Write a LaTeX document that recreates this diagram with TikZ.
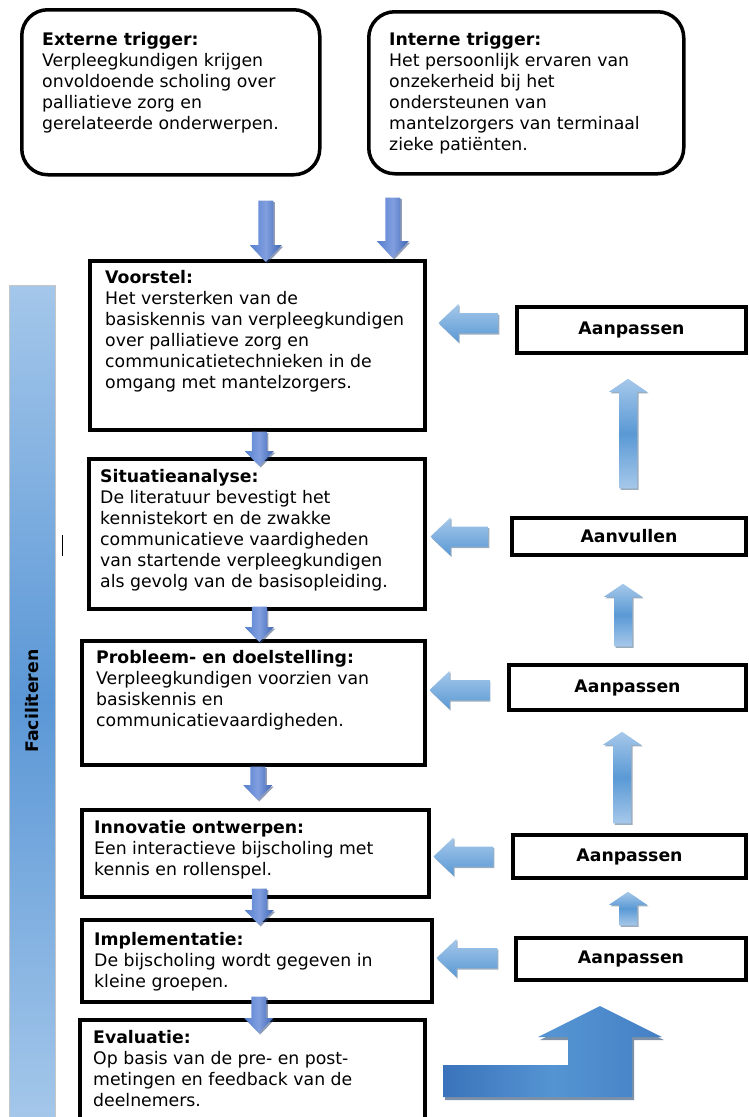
\documentclass[tikz,border=0pt]{standalone}
\usepackage{fontspec}
\setmainfont{DejaVu Sans}
\usetikzlibrary{calc,shadows}
\definecolor{dnL}{HTML}{557FD0}
\definecolor{dnM}{HTML}{819FDF}
\definecolor{dnR}{HTML}{3E65B4}
\definecolor{ltA}{HTML}{A6C8EA}
\definecolor{ltB}{HTML}{5A99D5}
\definecolor{bnL}{HTML}{3A73BA}
\definecolor{bnM}{HTML}{5594D3}
\definecolor{bnR}{HTML}{4480C4}
\definecolor{facA}{HTML}{A4C7EA}
\definecolor{facB}{HTML}{5B97D6}

\newcommand\myVarrow[6]{%
  \path[#1] let \p1=#2, \p2=#3, \n1={sign(\y2-\y1)} in
  ({\x1-#4pt},\y1) -- ({\x1-#4pt},{\y2-(\n1)*#6pt}) -- ({\x1-#5pt},{\y2-(\n1)*#6pt}) -- (\x1,\y2)
  -- ({\x1+#5pt},{\y2-(\n1)*#6pt}) -- ({\x1+#4pt},{\y2-(\n1)*#6pt}) -- ({\x1+#4pt},\y1) -- cycle;}
\newcommand\myHarrow[6]{%
  \path[#1] let \p1=#2, \p2=#3, \n1={sign(\x2-\x1)} in
  (\x1,{\y1-#4pt}) -- ({\x2-(\n1)*#6pt},{\y1-#4pt}) -- ({\x2-(\n1)*#6pt},{\y1-#5pt}) -- (\x2,\y1)
  -- ({\x2-(\n1)*#6pt},{\y1+#5pt}) -- ({\x2-(\n1)*#6pt},{\y1+#4pt}) -- (\x1,{\y1+#4pt}) -- cycle;}

\tikzset{
  rbox/.style={draw=black, line width=3.5pt, rounded corners=26pt, fill=white, inner sep=0pt, anchor=north west},
  sbox/.style={draw=black, line width=3.5pt, fill=white, inner sep=0pt, anchor=north west},
  abox/.style={draw=black, line width=3.5pt, fill=white, inner sep=0pt,
    font=\fontsize{17.3}{21}\selectfont\bfseries},
  txt/.style={font=\fontsize{17.3}{21}\selectfont, align=left, inner sep=0pt, anchor=north west},
  darr/.style={left color=dnL, right color=dnR, middle color=dnM,
    drop shadow={shadow xshift=1.5pt, shadow yshift=-1.5pt, fill=dnR!60!black, opacity=.5}},
  uarr/.style={top color=ltA, bottom color=ltA, middle color=ltB,
    drop shadow={shadow xshift=1.5pt, shadow yshift=-1.5pt, fill=ltB!60!black, opacity=.5}},
  larr/.style={top color=ltA, bottom color=ltB, middle color=ltA!50!ltB,
    drop shadow={shadow xshift=1pt, shadow yshift=-1.5pt, fill=ltB!60!black, opacity=.5}},
}

\begin{document}
\begin{tikzpicture}[x=1pt,y=-1pt]
\useasboundingbox (0,0) rectangle (748,1117);
\clip (0,0) rectangle (748,1117);

% Faciliteren bar
\node[minimum width=46pt, minimum height=832pt, inner sep=0pt,
  top color=facA, bottom color=facA, middle color=facB, draw=gray!45, line width=0.8pt] (fac) at (32,701) {};
\node[rotate=90, inner sep=0pt, font=\fontsize{17.3}{21}\selectfont\bfseries] (facT) at (fac.center) {Faciliteren};
\draw[line width=1pt] (62,535) -- (62,556);

% triggers
\node[rbox, minimum width=298pt, minimum height=165pt] (ext) at (20,8) {};
\node[txt] (extT) at (42,32) {\textbf{Externe trigger:}\\Verpleegkundigen krijgen\\onvoldoende scholing over\\palliatieve zorg en\\gerelateerde onderwerpen.};
\node[rbox, minimum width=315pt, minimum height=162pt] (int) at (367,10) {};
\node[txt] (intT) at (389,32) {\textbf{Interne trigger:}\\Het persoonlijk ervaren van\\onzekerheid bij het\\ondersteunen van\\mantelzorgers van terminaal\\zieke patiënten.};

% main column
\node[sbox, minimum width=335pt, minimum height=169pt] (v) at (88,259) {};
\node[txt] (vT) at (105,270) {\textbf{Voorstel:}\\Het versterken van de\\basiskennis van verpleegkundigen\\over palliatieve zorg en\\communicatietechnieken in de\\omgang met mantelzorgers.};
\node[sbox, minimum width=336pt, minimum height=150pt] (s) at (87,457) {};
\node[txt] (sT) at (100,469) {\textbf{Situatieanalyse:}\\De literatuur bevestigt het\\kennistekort en de zwakke\\communicatieve vaardigheden\\van startende verpleegkundigen\\als gevolg van de basisopleiding.};
\node[sbox, minimum width=343pt, minimum height=124pt] (p) at (80,639) {};
\node[txt] (pT) at (96,650) {\textbf{Probleem- en doelstelling:}\\Verpleegkundigen voorzien van\\basiskennis en\\communicatievaardigheden.};
\node[sbox, minimum width=347pt, minimum height=87pt] (i) at (80,808) {};
\node[txt] (iT) at (94,820) {\textbf{Innovatie ontwerpen:}\\Een interactieve bijscholing met\\kennis en rollenspel.};
\node[sbox, minimum width=350pt, minimum height=82pt] (im) at (80,918) {};
\node[txt] (imT) at (94,932) {\textbf{Implementatie:}\\De bijscholing wordt gegeven in\\kleine groepen.};
\node[sbox, minimum width=345pt, minimum height=112pt] (ev) at (78,1018) {};
\node[txt] (evT) at (93,1030) {\textbf{Evaluatie:}\\Op basis van de pre- en post-\\metingen en feedback van de\\deelnemers.};

% right column
\node[abox, minimum width=229pt, minimum height=46pt] (a1) at (631.5,330) {Aanpassen};
\node[abox, minimum width=234pt, minimum height=37pt] (av) at (629,536.5) {Aanvullen};
\node[abox, minimum width=237pt, minimum height=45pt] (a2) at (627.5,687.5) {Aanpassen};
\node[abox, minimum width=233pt, minimum height=43pt] (a3) at (629.5,856.5) {Aanpassen};
\node[abox, minimum width=230pt, minimum height=42pt] (a4) at (631,959) {Aanpassen};

% down arrows into Voorstel
\myVarrow{darr}{([xshift=95pt,yshift=-24pt]ext.south)}{([yshift=-3pt]v.north)}{7.5}{16}{17}
\myVarrow{darr}{([xshift=-133.5pt,yshift=-22pt]int.south)}{([yshift=1pt]v.north)}{7.5}{16}{17}

% spine arrows
\myVarrow{darr}{([xshift=2pt]v.south)}{([yshift=-9pt]s.north)}{7.5}{14.5}{15}
\myVarrow{darr}{([xshift=2.5pt,yshift=4pt]s.south)}{([yshift=-3pt]p.north)}{7.5}{14.5}{15}
\myVarrow{darr}{([xshift=4.5pt]p.south)}{([yshift=8pt]i.north)}{7.5}{14.5}{15}
\myVarrow{darr}{([xshift=4pt,yshift=10pt]i.south)}{([yshift=-7pt]im.north)}{7.5}{14.5}{15}
\myVarrow{darr}{([xshift=2pt,yshift=7pt]im.south)}{([yshift=-15pt]ev.north)}{7.5}{14.5}{15}

% left arrows
\myHarrow{larr}{([xshift=-17pt,yshift=7pt]a1.west)}{([xshift=12pt]v.east)}{10}{19}{20}
\myHarrow{larr}{([xshift=-22pt]av.west)}{([xshift=4pt]s.east)}{10}{19}{20}
\myHarrow{larr}{([xshift=-18pt,yshift=-2.5pt]a2.west)}{([xshift=3pt]p.east)}{10}{19}{20}
\myHarrow{larr}{([xshift=-18pt]a3.west)}{([xshift=3pt]i.east)}{10}{19}{20}
\myHarrow{larr}{([xshift=-17pt,yshift=1pt]a4.west)}{([xshift=3pt]im.east)}{10}{19}{20}

% up arrows
\myVarrow{uarr}{([xshift=-1pt,yshift=28pt]av.north)}{([yshift=-24pt]a1.south)}{9}{19}{13}
\myVarrow{uarr}{([xshift=-4.5pt,yshift=17pt]a2.north)}{([yshift=-27pt]av.south)}{9}{19}{13}
\myVarrow{uarr}{([xshift=-7.5pt,yshift=10pt]a3.north)}{([yshift=-20pt]a2.south)}{9}{19}{13}
\myVarrow{uarr}{([xshift=-3pt,yshift=11pt]a4.north)}{([yshift=-12pt]a3.south)}{9}{19}{13}

% bent arrow
\fill[bnR!55!black, opacity=.6] (445,1068) -- (570,1068) -- (570,1040) -- (540,1040) -- (602,1009) -- (664,1040) -- (634,1040) -- (634,1100) -- (445,1100) -- cycle;
\path[left color=bnL, right color=bnR, middle color=bnM] (443,1065) -- (568,1065) -- (568,1037) -- (538,1037) -- (600,1006) -- (662,1037) -- (632,1037) -- (632,1097) -- (443,1097) -- cycle;
\end{tikzpicture}
\end{document}
